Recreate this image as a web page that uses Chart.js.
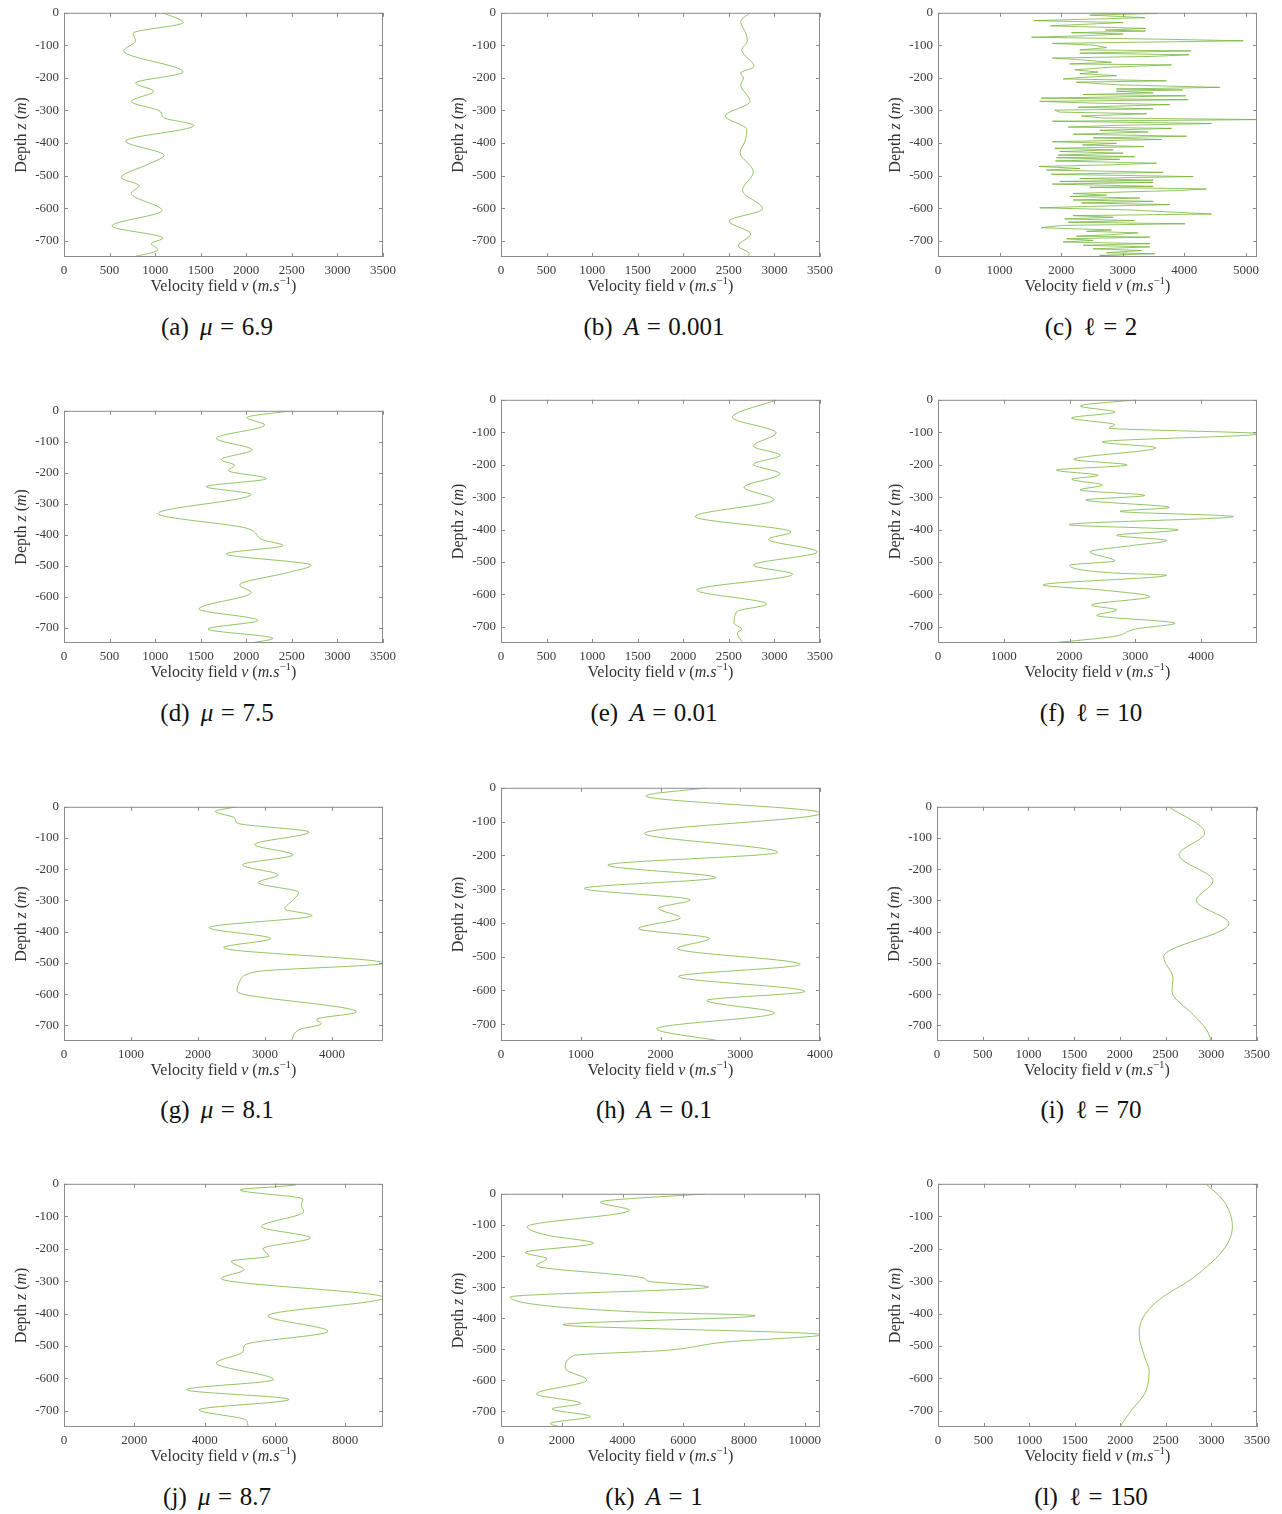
<!DOCTYPE html>
<html>
<head>
<meta charset="utf-8">
<script src="https://cdn.jsdelivr.net/npm/chart.js@4.4.0/dist/chart.umd.min.js"></script>
<style>
  html, body { margin: 0; padding: 0; background: #fff; }
  body { width: 1282px; height: 1514px; position: relative; overflow: hidden;
         font-family: "Liberation Serif", "DejaVu Serif", serif; }
  canvas { position: absolute; }
  .caption { position: absolute; transform: translate(-50%, -50%); font-size: 25px;
             color: #111; white-space: nowrap; }
  .caption .sym { margin-left: 0.45em; }
  .caption .eq { margin: 0 0.3em; }
</style>
</head>
<body>
<script>
// profils de vitesse : profondeur z (m) et vitesse v (m/s)
const depthTicks = [0, -100, -200, -300, -400, -500, -600, -700];
const ticks3500 = [0, 500, 1000, 1500, 2000, 2500, 3000, 3500];
const ticks4000 = [0, 1000, 2000, 3000, 4000];
const ticks5000 = [0, 1000, 2000, 3000, 4000, 5000];
const ticks8000 = [0, 2000, 4000, 6000, 8000];
const ticks10000 = [0, 2000, 4000, 6000, 8000, 10000];

// (a) mu = 6.9
const zA = [0, -30, -63, -86, -117, -182, -216, -241, -272, -302, -323, -346, -394, -438, -465, -506, -531, -555, -607, -655, -692, -709, -728, -750];
const vA = [1086, 1306, 757, 786, 655, 1306, 786, 984, 739, 1050, 1104, 1426, 677, 1097, 922, 629, 823, 739, 1075, 527, 1086, 958, 1031, 757];
// (b) A = 0.001
const zB = [0, -27, -65, -86, -114, -165, -185, -200, -221, -272, -317, -358, -394, -429, -488, -546, -602, -640, -679, -716, -740, -750];
const vB = [2733, 2630, 2689, 2703, 2641, 2777, 2630, 2660, 2630, 2733, 2459, 2696, 2678, 2623, 2769, 2649, 2872, 2503, 2740, 2605, 2725, 2696];
// (c) l = 2
const zC = [0, -2, -7, -15, -24, -30, -40, -48, -53, -56,
  -61, -65, -71, -75, -81, -86, -94, -99, -107, -114,
  -117, -124, -129, -134, -139, -144, -152, -157, -160, -167,
  -175, -182, -187, -193, -198, -203, -209, -213, -221, -229,
  -234, -237, -241, -246, -251, -255, -262, -267, -272, -277,
  -282, -290, -295, -299, -305, -310, -317, -323, -328, -333,
  -340, -346, -351, -355, -361, -366, -373, -379, -384, -389,
  -396, -401, -406, -411, -416, -421, -426, -431, -437, -442,
  -445, -450, -455, -462, -467, -472, -478, -483, -490, -496,
  -503, -509, -514, -518, -521, -526, -533, -536, -541, -546,
  -550, -555, -560, -564, -569, -575, -579, -584, -589, -595,
  -599, -605, -618, -623, -628, -633, -638, -643, -648, -653,
  -660, -667, -671, -676, -681, -686, -689, -694, -699, -704,
  -709, -714, -719, -725, -730, -737, -740, -745, -750];
const vC = [2519, 3575, 2465, 3359, 1555, 3006, 1826, 3369, 2719, 3369,
  2167, 3006, 2302, 1517, 3602, 4957, 1858, 2519, 2736, 2302,
  4106, 2302, 4079, 3467, 1858, 2302, 2817, 2140, 3792, 2817,
  2221, 2600, 2302, 2898, 2383, 2031, 3711, 2248, 2898, 4577,
  2898, 3971, 2898, 3494, 2356, 4025, 1679, 4063, 1652, 2465,
  3765, 2275, 3494, 1896, 1977, 3386, 2329, 2681, 5300, 1858,
  4442, 2844, 2113, 3792, 2627, 3413, 2194, 4036, 2519, 3629,
  1858, 2898, 2346, 3342, 1896, 2844, 1977, 3006, 1950, 3196,
  1923, 2952, 1907, 3548, 2790, 1641, 2302, 1761, 3656, 1842,
  4144, 2302, 3494, 1977, 3494, 1858, 3494, 2465, 4361, 3873,
  3061, 2194, 2736, 2140, 3277, 2194, 3494, 2329, 3765, 2356,
  1652, 3061, 4442, 2194, 2844, 2058, 3196, 2113, 4009, 2004,
  1679, 2817, 2411, 3250, 2844, 2248, 3440, 2086, 2519, 2031,
  3440, 2356, 3440, 2519, 3304, 2736, 3521, 2627, 3386];
// (d) mu = 7.5
const zD = [0, -22, -46, -89, -126, -158, -176, -193, -219, -245, -270, -332, -379, -417, -435, -462, -499, -521, -563, -587, -640, -677, -705, -735, -750];
const vD = [2494, 2008, 2202, 1671, 2063, 1726, 1872, 1803, 2220, 1562, 2055, 1031, 2000, 2183, 2403, 1781, 2713, 2476, 1927, 2055, 1481, 2128, 1580, 2293, 2055];
// (e) A = 0.01
const zE = [0, -54, -102, -143, -171, -199, -228, -270, -308, -360, -408, -430, -469, -510, -538, -587, -630, -653, -689, -707, -719, -750];
const vE = [3025, 2539, 3018, 2769, 3062, 2769, 3062, 2667, 2996, 2130, 3182, 2934, 3471, 2769, 3200, 2148, 2915, 2587, 2557, 2641, 2594, 2652];
// (f) l = 10
const zF = [0, -19, -38, -56, -77, -87, -105, -130, -148, -184, -201, -217, -233, -245, -263, -278, -295, -309, -332, -344, -360, -385, -401, -418, -434, -449, -469, -497, -510, -534, -541, -571, -587, -607, -633, -648, -665, -689, -707, -730, -750];
const vF = [3010, 2167, 2690, 2030, 2690, 2604, 4900, 2497, 3314, 2066, 2877, 1802, 2436, 2035, 2502, 2157, 3147, 2248, 3517, 2766, 4491, 1995, 3654, 2715, 3477, 2969, 2309, 2690, 2005, 2664, 3477, 1599, 2512, 3223, 2334, 2715, 2411, 3603, 3000, 2664, 1725];
// (g) mu = 8.1
const zG = [0, -15, -36, -52, -81, -121, -154, -186, -218, -243, -274, -297, -327, -348, -387, -422, -451, -501, -528, -560, -591, -657, -681, -695, -713, -750];
const vG = [2572, 2258, 2547, 2582, 3656, 2845, 3417, 2661, 3193, 2895, 3502, 3427, 3293, 3701, 2164, 3084, 2382, 4780, 2870, 2621, 2582, 4362, 3765, 3840, 3517, 3392];
// (h) A = 0.1
const zH = [0, -24, -75, -135, -191, -229, -266, -298, -332, -357, -385, -417, -446, -476, -523, -559, -603, -630, -667, -714, -750];
const vH = [2580, 1816, 4020, 1800, 3470, 1340, 2693, 1044, 2372, 1975, 2246, 1724, 2614, 2213, 3750, 2225, 3812, 2580, 3428, 1954, 2747];
// (i) l = 70
const zI = [0, -84, -154, -237, -300, -374, -480, -549, -591, -665, -713, -750];
const vI = [2537, 2928, 2647, 3019, 2836, 3194, 2479, 2581, 2570, 2800, 2946, 3000];
// (j) mu = 8.7
const zJ = [0, -2, -19, -47, -65, -86, -132, -167, -200, -223, -239, -265, -292, -351, -407, -455, -497, -517, -553, -604, -635, -665, -697, -729, -750];
const vJ = [5940, 6606, 5013, 6795, 6748, 6814, 5610, 7003, 5658, 5828, 4757, 5118, 4473, 9100, 5800, 7506, 5137, 5090, 4331, 5961, 3478, 6397, 3838, 5184, 5231];
// (k) A = 1
const zK = [0, -27, -53, -106, -133, -159, -189, -209, -231, -271, -281, -300, -332, -379, -392, -421, -453, -477, -504, -520, -562, -599, -644, -674, -692, -716, -739, -750];
const vK = [6718, 3266, 4231, 855, 1512, 3047, 800, 1512, 1162, 4691, 4855, 6828, 307, 4253, 8362, 2039, 10550, 7376, 5348, 2389, 2115, 2828, 1162, 2630, 1677, 2937, 1622, 1951];
// (l) l = 150
const zL = [0, -50, -132, -198, -290, -356, -412, -463, -535, -576, -647, -698, -750];
const vL = [2937, 3127, 3230, 3145, 2799, 2433, 2250, 2207, 2268, 2316, 2268, 2123, 1995];

const panelTags = ['(a)', '(b)', '(c)', '(d)', '(e)', '(f)', '(g)', '(h)', '(i)', '(j)', '(k)', '(l)'];
const paramNames = ['μ', 'A', 'ℓ', 'μ', 'A', 'ℓ', 'μ', 'A', 'ℓ', 'μ', 'A', 'ℓ'];
const paramValues = ['6.9', '0.001', '2', '7.5', '0.01', '10', '8.1', '0.1', '70', '8.7', '1', '150'];
const velocityMax = [3500, 3500, 5180, 3500, 3500, 4850, 4760, 4000, 3500, 9070, 10500, 3500];

// placement des zones de tracé : [gauche, haut, largeur, hauteur]
const panels = [
  { z: zA, v: vA, xt: ticks3500, box: [64, 11, 319, 246] },
  { z: zB, v: vB, xt: ticks3500, box: [501, 11, 319, 246] },
  { z: zC, v: vC, xt: ticks5000, box: [938, 11, 319, 246], jagged: true },
  { z: zD, v: vD, xt: ticks3500, box: [64, 409, 319, 234] },
  { z: zE, v: vE, xt: ticks3500, box: [501, 398, 319, 245] },
  { z: zF, v: vF, xt: ticks4000, box: [938, 398, 319, 245] },
  { z: zG, v: vG, xt: ticks4000, box: [64, 805, 319, 236] },
  { z: zH, v: vH, xt: ticks4000, box: [501, 786, 319, 255] },
  { z: zI, v: vI, xt: ticks3500, box: [937, 805, 320, 236] },
  { z: zJ, v: vJ, xt: ticks8000, box: [64, 1182, 319, 245] },
  { z: zK, v: vK, xt: ticks10000, box: [501, 1192, 319, 235] },
  { z: zL, v: vL, xt: ticks3500, box: [938, 1182, 319, 245] }
];
const captionX = [217, 654, 1091];
const captionY = [327, 713, 1110, 1497];

const PAD_L = 64, PAD_T = 11, PAD_R = 24, PAD_B = 48;
const SERIF = '"Liberation Serif", "DejaVu Serif", serif';
const LINE_COLOR = 'rgba(110, 178, 48, 0.75)';

const xTitle = [['Velocity field ', ''], ['v', 'i'], [' (', ''], ['m.s', 'i'], ['\u22121', 'sup'], [')', '']];
const yTitle = [['Depth ', ''], ['z', 'i'], [' (', ''], ['m', 'i'], [')', '']];

// texte avec morceaux en italique / exposant, centré sur l'origine courante
function drawRich(ctx, parts, size) {
  const fontFor = s => (s === 'i' ? 'italic ' : '') + (s === 'sup' ? Math.round(size * 0.7) : size) + 'px ' + SERIF;
  let w = 0;
  parts.forEach(([t, s]) => { ctx.font = fontFor(s); w += ctx.measureText(t).width; });
  let x = -w / 2;
  parts.forEach(([t, s]) => {
    ctx.font = fontFor(s);
    ctx.fillText(t, x, s === 'sup' ? -size * 0.38 : 0);
    x += ctx.measureText(t).width;
  });
}

// cadre, graduations tournées vers l'intérieur et titres d'axes
const framePlugin = {
  id: 'frame',
  afterDraw(chart) {
    const { ctx, chartArea: a, scales: { x, y } } = chart;
    ctx.save();
    ctx.strokeStyle = '#8c8c8c';
    ctx.lineWidth = 1;
    ctx.strokeRect(a.left + 0.5, a.top + 0.5, a.right - a.left - 1, a.bottom - a.top - 1);
    ctx.beginPath();
    x.ticks.forEach(t => {
      const px = Math.round(x.getPixelForValue(t.value)) + 0.5;
      ctx.moveTo(px, a.bottom); ctx.lineTo(px, a.bottom - 4);
      ctx.moveTo(px, a.top); ctx.lineTo(px, a.top + 4);
    });
    y.ticks.forEach(t => {
      const py = Math.round(y.getPixelForValue(t.value)) + 0.5;
      ctx.moveTo(a.left, py); ctx.lineTo(a.left + 4, py);
      ctx.moveTo(a.right, py); ctx.lineTo(a.right - 4, py);
    });
    ctx.stroke();

    ctx.fillStyle = '#333';
    ctx.textBaseline = 'middle';
    ctx.textAlign = 'left';
    ctx.save();
    ctx.translate((a.left + a.right) / 2, a.bottom + 30);
    drawRich(ctx, xTitle, 16);
    ctx.restore();
    ctx.save();
    ctx.translate(a.left - 42, (a.top + a.bottom) / 2);
    ctx.rotate(-Math.PI / 2);
    drawRich(ctx, yTitle, 16);
    ctx.restore();
    ctx.restore();
  }
};

panels.forEach((p, i) => {
  const [left, top, w, h] = p.box;
  const canvas = document.createElement('canvas');
  canvas.width = w + PAD_L + PAD_R;
  canvas.height = h + PAD_T + PAD_B;
  canvas.style.left = (left - PAD_L) + 'px';
  canvas.style.top = (top - PAD_T) + 'px';
  document.body.appendChild(canvas);

  const points = p.z.map((d, k) => ({ x: p.v[k], y: d }));
  const tickFont = { family: SERIF, size: 13 };

  new Chart(canvas.getContext('2d'), {
    type: 'line',
    data: {
      datasets: [{
        data: points,
        borderColor: LINE_COLOR,
        borderWidth: 1,
        pointRadius: 0,
        fill: false,
        tension: p.jagged ? 0 : 0.4,
        cubicInterpolationMode: p.jagged ? 'default' : 'monotone'
      }]
    },
    options: {
      indexAxis: 'y',
      responsive: false,
      animation: false,
      devicePixelRatio: 1,
      layout: { padding: { left: 0, top: PAD_T, right: PAD_R, bottom: 0 } },
      plugins: { legend: { display: false }, tooltip: { enabled: false } },
      scales: {
        x: {
          type: 'linear', position: 'bottom', min: 0, max: velocityMax[i],
          grid: { display: false, drawTicks: false },
          border: { display: false },
          ticks: { autoSkip: false, maxRotation: 0, padding: 6, color: '#3a3a3a', font: tickFont,
                   callback: v => String(v) },
          afterBuildTicks: s => { s.ticks = p.xt.map(v => ({ value: v })); },
          afterFit: s => { s.height = PAD_B; }
        },
        y: {
          type: 'linear', position: 'left', min: -750, max: 0,
          grid: { display: false, drawTicks: false },
          border: { display: false },
          ticks: { autoSkip: false, padding: 5, color: '#3a3a3a', font: tickFont,
                   callback: v => String(v) },
          afterBuildTicks: s => { s.ticks = depthTicks.map(v => ({ value: v })); },
          afterFit: s => { s.width = PAD_L; }
        }
      }
    },
    plugins: [framePlugin]
  });

  const cap = document.createElement('div');
  cap.className = 'caption';
  cap.style.left = captionX[i % 3] + 'px';
  cap.style.top = captionY[Math.floor(i / 3)] + 'px';
  const sym = paramNames[i] === 'ℓ' ? paramNames[i] : '<i>' + paramNames[i] + '</i>';
  cap.innerHTML = panelTags[i] + '<span class="sym">' + sym + '</span><span class="eq">=</span>' + paramValues[i];
  document.body.appendChild(cap);
});
</script>
</body>
</html>
